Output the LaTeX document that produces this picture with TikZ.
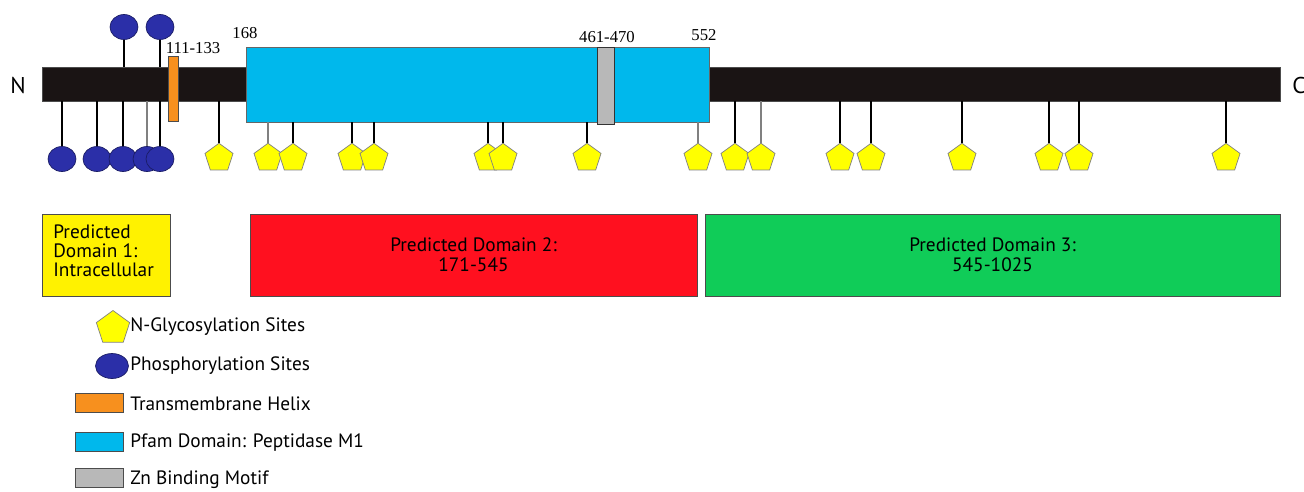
\documentclass[tikz,border=0pt]{standalone}
\usepackage{fontspec}
\setmainfont{PT Sans}
\newfontfamily\numfont{Liberation Serif}
\usepackage{tikz}
\usetikzlibrary{shapes.geometric,positioning}
\definecolor{barblack}{HTML}{1A1414}
\definecolor{pfamblue}{HTML}{00B8EC}
\definecolor{zngrey}{HTML}{B8B8B8}
\definecolor{tmorange}{HTML}{F7901E}
\definecolor{domyellow}{HTML}{FFF200}
\definecolor{domred}{HTML}{FF101F}
\definecolor{domgreen}{HTML}{10CC58}
\definecolor{phosblue}{HTML}{2B2FA8}
\definecolor{glycyellow}{HTML}{FFFF00}

\begin{document}
\begin{tikzpicture}[x=0.02cm,y=-0.02cm,
  glyc/.style={regular polygon,regular polygon sides=5,draw=gray,fill=glycyellow,inner sep=0pt,minimum size=0.59cm},
  phos/.style={ellipse,draw=phosblue!60!black,fill=phosblue,inner sep=0pt,minimum width=0.56cm,minimum height=0.5cm},
  stem/.style={line width=1.1pt},
  region/.style={rectangle,draw=black!70,inner sep=0pt},
  dombox/.style={region,minimum height=1.64cm,font=\fontsize{11}{11.4}\selectfont},
  keybox/.style={region,minimum width=0.96cm,minimum height=0.38cm},
  keytext/.style={anchor=west,inner sep=0pt,font=\fontsize{11}{11}\selectfont},
  numlabel/.style={inner sep=0pt,font=\numfont\fontsize{9.5}{9.5}\selectfont},
  term/.style={inner sep=0pt,font=\fontsize{13}{13}\selectfont}]
\useasboundingbox (0,0) rectangle (1304,491);
% protein backbone and domains
\node[region,fill=barblack,minimum width=24.76cm,minimum height=0.68cm] (bar) at (661,84) {};
\node[region,draw=black!60,fill=pfamblue,minimum width=9.26cm,minimum height=1.5cm] (pfam) at (477.5,84.5) {};
\node[region,draw=black!80,fill=zngrey,minimum width=0.34cm,minimum height=1.54cm] (zn) at (605.5,85.5) {};
\node[region,draw=black!70,fill=tmorange,minimum width=0.2cm,minimum height=1.3cm] (tm) at (173.5,88.5) {};
\node[term] (nterm) at (18,85) {N};
\node[term,anchor=west] (cterm) at (1292,85) {C};
\node[numlabel] (tmpos) at (193,48) {111-133};
\node[numlabel] (pfamstart) at (245,33) {168};
\node[numlabel] (znpos) at (607,37) {461-470};
\node[numlabel] (pfamend) at (704,35) {552};
% phosphorylation sites
\node[phos] (p1) at (124,27) {};
\node[phos] (p2) at (160,27) {};
\draw[stem] (p1.south) -- (p1.south |- bar.north);
\draw[stem] (p2.south) -- (p2.south |- bar.north);
\foreach \x/\c [count=\i from 3] in {62/black,97/black,123/black,147/gray,160/black} {
  \node[phos] (p\i) at (\x,159) {};
  \draw[stem,\c] (p\i.north) -- (p\i.north |- bar.south);
}
% N-glycosylation sites
\foreach \x/\t/\c [count=\i] in {219/bar/black,268/pfam/gray,293/pfam/black,352/pfam/black,
  374/pfam/black,488/pfam/black,503/pfam/black,587/pfam/black,698/pfam/gray,735/bar/black,
  761/bar/gray,840/bar/black,871/bar/black,962/bar/black,1049/bar/black,1079/bar/black,1226/bar/black} {
  \node[glyc] (g\i) at (\x,158) {};
  \draw[stem,\c] (g\i.north) -- (g\i.north |- \t.south);
}
% predicted domains
\node[dombox,fill=domyellow,minimum width=2.56cm] (dom1) at (106,255) {};
\node[inner sep=0pt,anchor=north west,align=left,font=\fontsize{11}{11}\selectfont] (dom1text) at (53,224) {Predicted\\Domain 1:\\Intracellular};
\node[dombox,fill=domred,minimum width=8.94cm,align=center] (dom2) at (473.5,255) {Predicted Domain 2:\\171-545};
\node[dombox,fill=domgreen,minimum width=11.5cm,align=center] (dom3) at (992.5,255) {Predicted Domain 3:\\545-1025};
% legend
\node[glyc,minimum size=0.7cm] (kglyc) at (113,328) {};
\node[keytext] (kglyctext) at (130,327) {N-Glycosylation Sites};
\node[phos,minimum width=0.66cm] (kphos) at (112,366) {};
\node[keytext] (kphostext) at (130,366) {Phosphorylation Sites};
\node[keybox,fill=tmorange] (ktm) at (99.5,403) {};
\node[keytext] (ktmtext) at (130,404) {Transmembrane Helix};
\node[keybox,fill=pfamblue] (kpfam) at (99.5,442) {};
\node[keytext] (kpfamtext) at (130,443) {Pfam Domain: Peptidase M1};
\node[keybox,fill=zngrey] (kzn) at (99.5,478) {};
\node[keytext] (kzntext) at (130,480) {Zn Binding Motif};
\end{tikzpicture}
\end{document}
